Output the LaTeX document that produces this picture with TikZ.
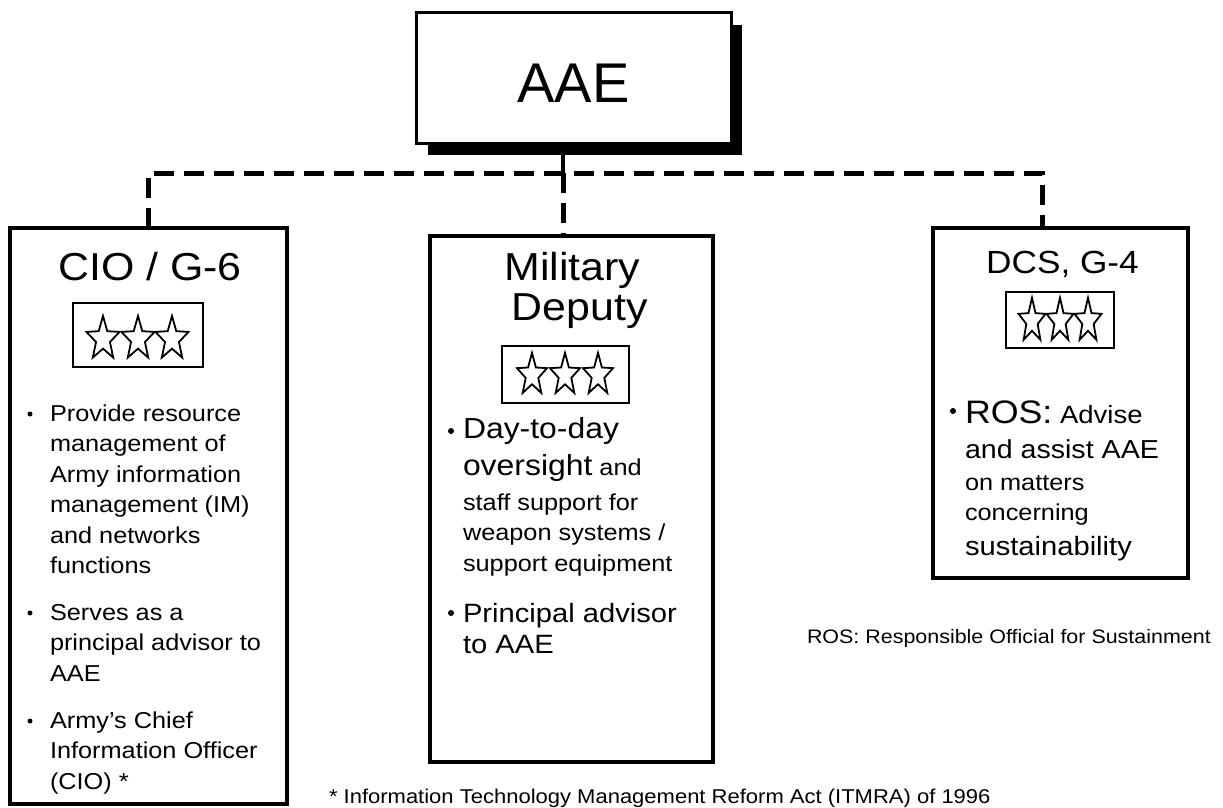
\documentclass[tikz,border=0pt]{standalone}
\usepackage{fontspec}
\setmainfont{Liberation Sans}[FakeStretch=1.1]
\newfontfamily\aaefont{Liberation Sans}
\usetikzlibrary{backgrounds,calc}
\newcommand{\setfs}[1]{\fontsize{#1}{#1}\selectfont}
\newcommand{\threestars}[6]{%
  \foreach \cx in {#1,#2,#3}{%
    \draw[starline] (\cx,{#4-#6}) \foreach \k in {1,...,9}{ -- ({\cx+(1-0.58*isodd(\k))*#5*cos(90+36*\k)},{#4-(1-0.58*isodd(\k))*#6*sin(90+36*\k)}) } -- cycle;
  }}
\tikzset{
  bigbox/.style={draw, line width=4pt, inner sep=0pt, outer sep=0pt, fill=white},
  aaebox/.style={draw, line width=3pt, inner sep=0pt, outer sep=0pt, fill=white},
  starbox/.style={draw, line width=2pt, inner sep=0pt, outer sep=0pt},
  starline/.style={line width=1.8pt, line join=miter},
  txt/.style={inner sep=0pt, outer sep=0pt, anchor=base west},
  ttl/.style={inner sep=0pt, outer sep=0pt, anchor=base},
  bul/.style={circle, fill, inner sep=0pt, outer sep=0pt, minimum size=#1},
  bul/.default=5pt,
  solidconn/.style={line width=3.5pt},
  dashconn/.style={line width=5pt, dash pattern=on 20pt off 10pt},
}
\begin{document}
\begin{tikzpicture}[x=1pt, y=-1pt]
\useasboundingbox (0,0) rectangle (1223,808);

% connector coordinates
\coordinate (hub) at (563,173);
\coordinate (rc) at (1042,173);

% AAE box
\node[aaebox, minimum width=315pt, minimum height=130pt] (aae) at (573.5,78) {};
\node[ttl, font=\aaefont\setfs{56}] (aaet) at (573.5,102) {AAE};

% three boxes
\node[bigbox, minimum width=277pt, minimum height=576pt] (cio) at (148.5,516) {};
\node[bigbox, minimum width=283pt, minimum height=526pt] (mil) at (571.5,499) {};
\node[bigbox, minimum width=255pt, minimum height=350pt] (dcs) at (1060.5,403) {};

% connectors
\draw[solidconn] (aae.south -| hub) -- (hub);
\draw[dashconn] (cio.north) |- (rc) -- (rc |- dcs.north);
\draw[dashconn] (hub) -- (hub |- mil.north);

% titles
\node[ttl, font=\setfs{39}] (ct) at (150,280) {CIO / G-6};
\node[ttl, font=\setfs{39}] (mt1) at (572.5,280) {Military};
\node[ttl, font=\setfs{39}] (mt2) at (579.5,320) {Deputy};
\node[ttl, font=\setfs{32}] (dt) at (1062.5,273) {DCS, G-4};

% star boxes
\node[starbox, minimum width=130pt, minimum height=64pt] (cs) at (138,335) {};
\node[starbox, minimum width=127pt, minimum height=57pt] (ms) at (565.5,374.5) {};
\node[starbox, minimum width=108pt, minimum height=56pt] (ds) at (1060,320) {};
\threestars{103}{138}{172}{339}{17.4}{23}
\threestars{532}{565}{598}{375}{15.8}{22.1}
\threestars{1032}{1060}{1088}{321}{14.2}{23.2}

% CIO text
\node[bul] (cb1) at (30,414) {};
\node[txt, font=\setfs{23}] (c1) at (50,421) {Provide resource};
\node[txt, font=\setfs{23}] (c2) at (50,451.5) {management of};
\node[txt, font=\setfs{23}] (c3) at (50,482) {Army information};
\node[txt, font=\setfs{23}] (c4) at (50,512.5) {management (IM)};
\node[txt, font=\setfs{23}] (c5) at (50,543) {and networks};
\node[txt, font=\setfs{23}] (c6) at (50,573.5) {functions};
\node[bul] (cb2) at (30,613) {};
\node[txt, font=\setfs{23}] (c7) at (50,620) {Serves as a};
\node[txt, font=\setfs{23}] (c8) at (50,650.5) {principal advisor to};
\node[txt, font=\setfs{23}] (c9) at (50,681) {AAE};
\node[bul] (cb3) at (30,721) {};
\node[txt, font=\setfs{23}] (c10) at (50,728) {Army's Chief};
\node[txt, font=\setfs{23}] (c11) at (50,758.5) {Information Officer};
\node[txt, font=\setfs{23}] (c12) at (50,789) {(CIO) *};

% Military Deputy text
\node[bul=6pt] (mb1) at (451,431) {};
\node[txt, font=\setfs{29}] (m1) at (463,438) {Day-to-day};
\node[txt] (m2) at (463,475) {{\setfs{29}oversight}{\setfs{23} and}};
\node[txt, font=\setfs{23}] (m3) at (463,510) {staff support for};
\node[txt, font=\setfs{23}] (m4) at (463,540.5) {weapon systems /};
\node[txt, font=\setfs{23}] (m5) at (463,571) {support equipment};
\node[bul=6pt] (mb2) at (451,613) {};
\node[txt, font=\setfs{26.5}] (m6) at (463,622) {Principal advisor};
\node[txt, font=\setfs{26.5}] (m7) at (463,653) {to AAE};

% DCS text
\node[bul=6pt] (db1) at (953,411) {};
\node[txt] (d1) at (965,423) {{\setfs{32.5}ROS:}{\setfs{25} Advise}};
\node[txt, font=\setfs{26}] (d2) at (965,458) {and assist AAE};
\node[txt, font=\setfs{23}] (d3) at (965,490) {on matters};
\node[txt, font=\setfs{23}] (d4) at (965,520) {concerning};
\node[txt, font=\setfs{26.5}] (d5) at (965,555) {sustainability};

% footnotes
\node[txt, font=\setfs{19.5}] (ros) at (807,643) {ROS: Responsible Official for Sustainment};
\node[txt, font=\setfs{20}] (itm) at (329,803) {* Information Technology Management Reform Act (ITMRA) of 1996};

\begin{scope}[on background layer]
  \fill[white] (0,0) rectangle (1223,808);
  \fill[black] ($(aae.south west)+(12,12)$) rectangle ($(aae.north east)+(11,12)$);
\end{scope}
\end{tikzpicture}
\end{document}
